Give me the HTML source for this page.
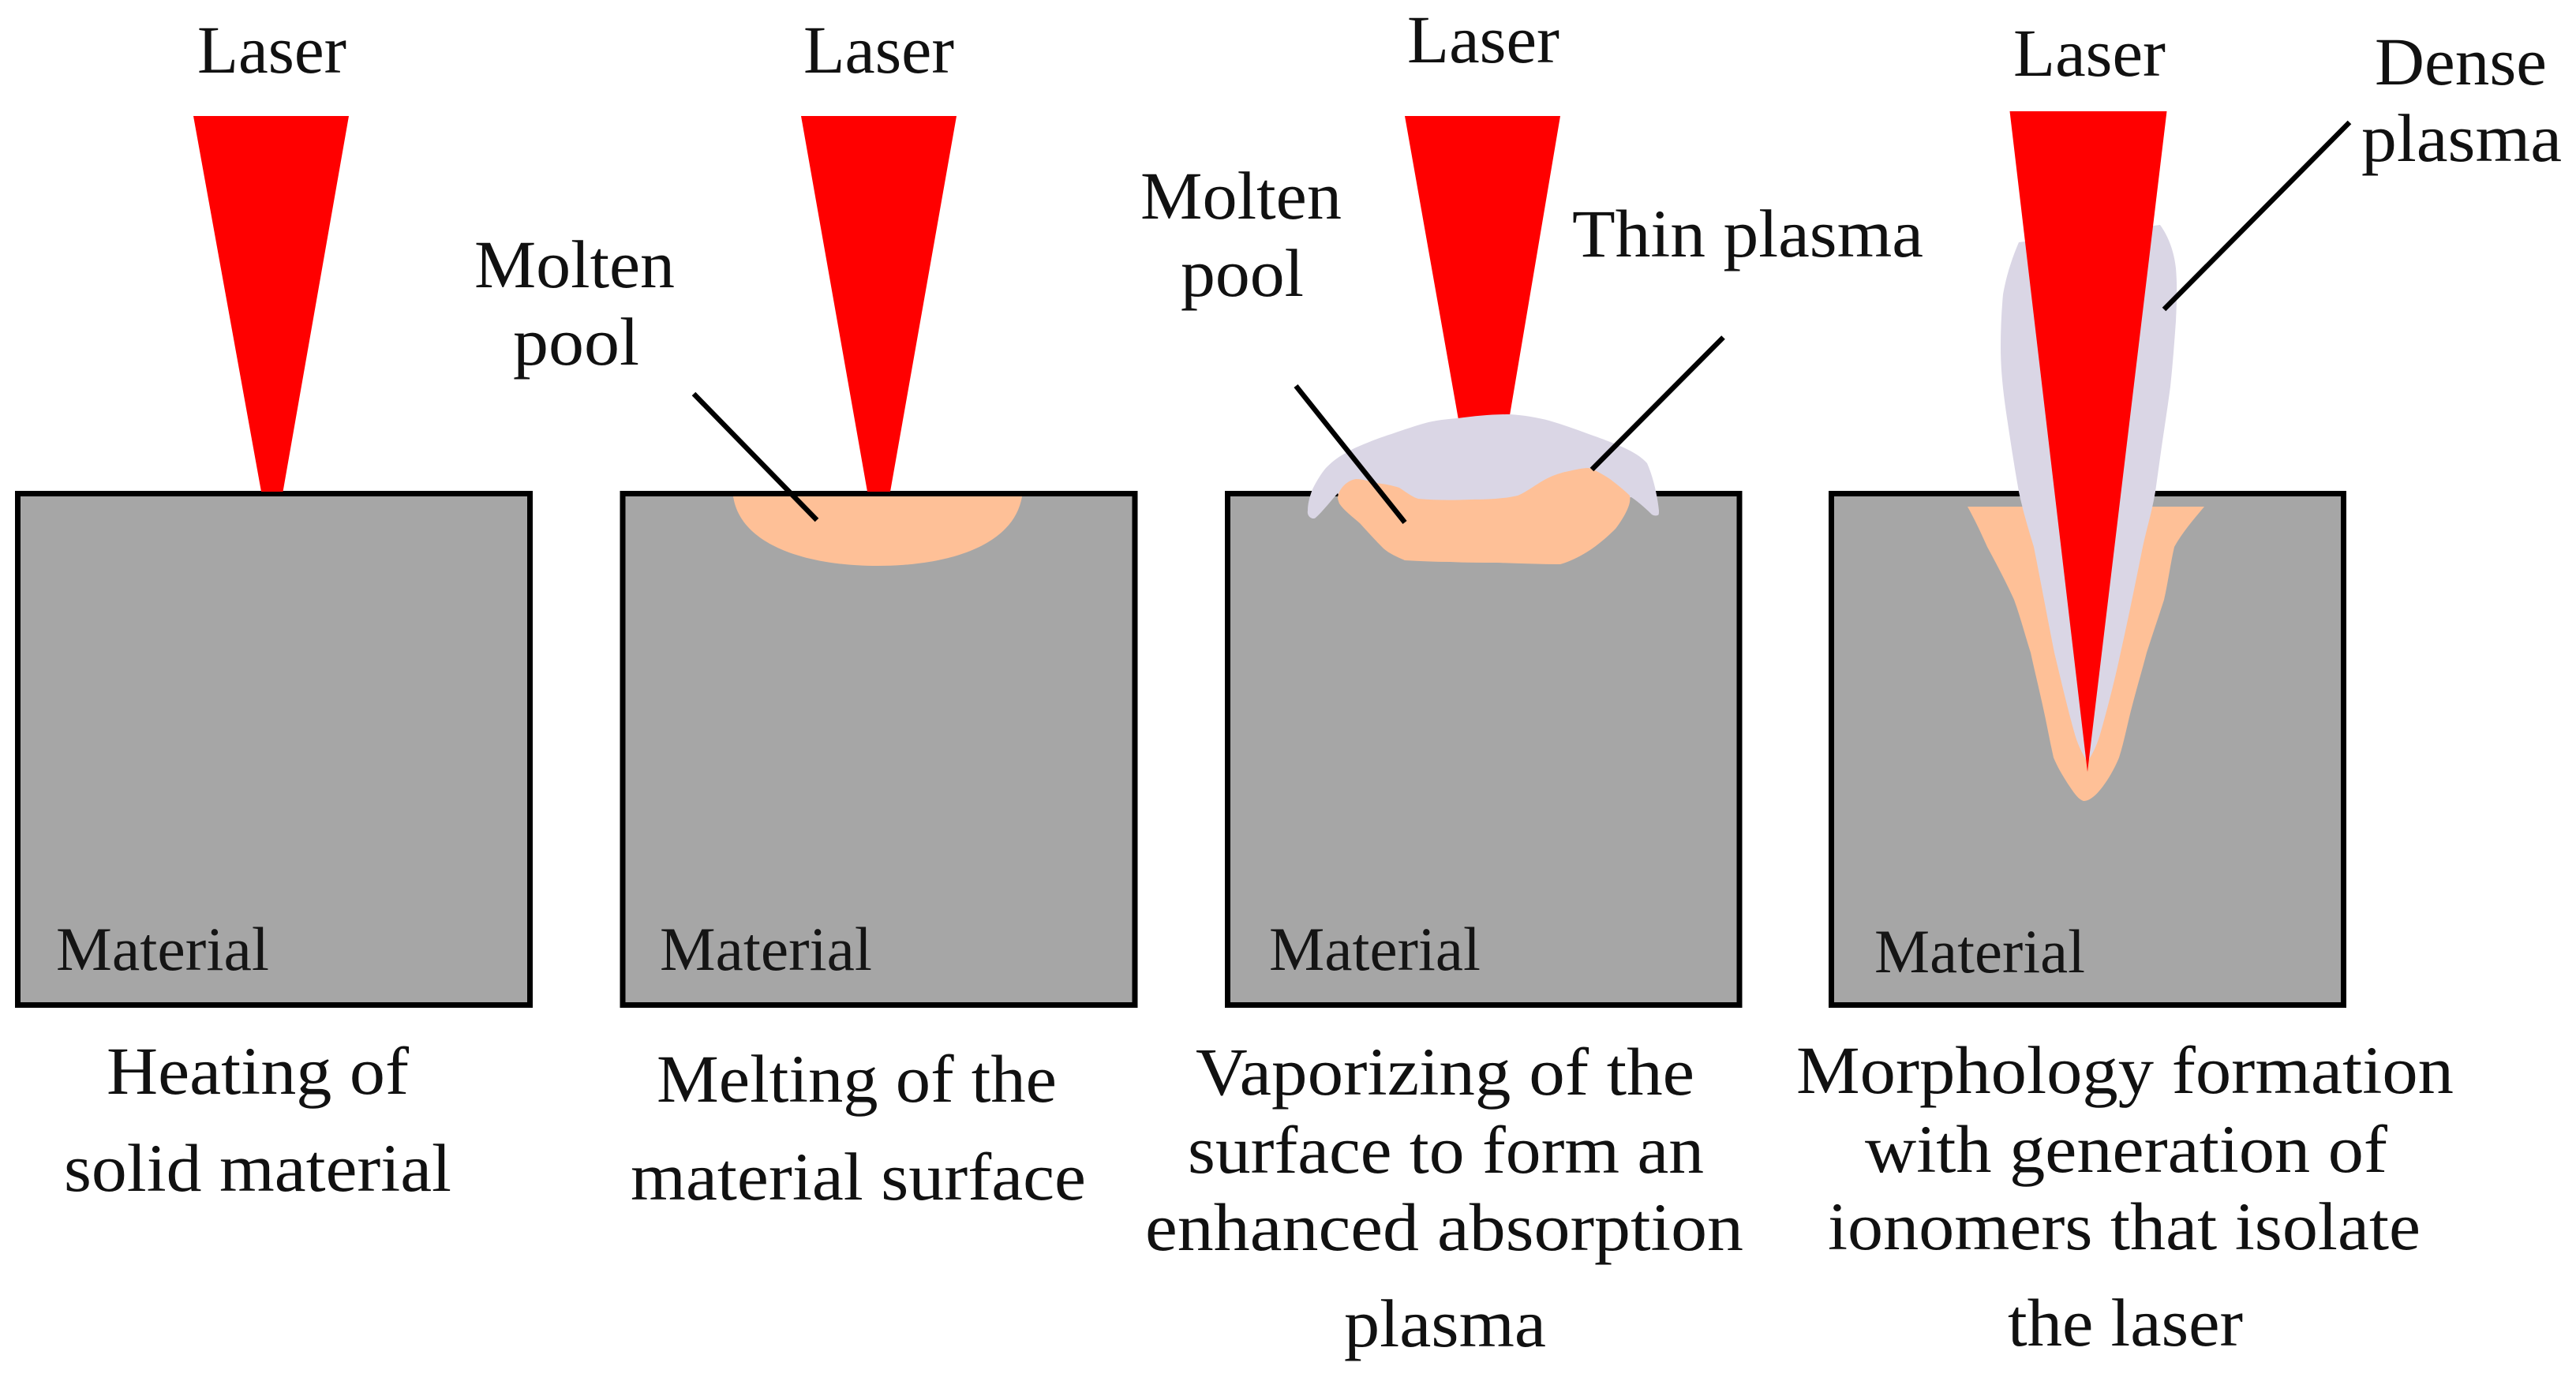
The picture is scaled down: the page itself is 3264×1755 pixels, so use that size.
<!DOCTYPE html>
<html><head><meta charset="utf-8"><style>
html,body{margin:0;padding:0;background:#fff;width:3264px;height:1755px;overflow:hidden}
svg{display:block}
text{font-family:"Liberation Serif",serif;font-size:86px;fill:#111}
.m{font-size:78px;fill:#151515}
</style></head><body>
<svg width="3264" height="1755" viewBox="0 0 3264 1755" xmlns="http://www.w3.org/2000/svg">
<rect width="3264" height="1755" fill="#fff"/>
<g fill="#a6a6a6" stroke="#000" stroke-width="7">
<rect x="22.5" y="625.5" width="649" height="648"/>
<rect x="789" y="625.5" width="649" height="648"/>
<rect x="1555.5" y="625.5" width="648.5" height="648"/>
<rect x="2320.5" y="625.5" width="649" height="648"/>
</g>
<!-- panel 1 -->
<polygon points="245,147 442,147 358.5,623 331,623" fill="#f00"/>
<!-- panel 2 -->
<path d="M929 629 L1295 629 C1285 690 1205 717 1112 717 C1020 717 938 690 929 629Z" fill="#fec097"/>
<polygon points="1015,147 1212,147 1128,623 1099,623" fill="#f00"/>
<line x1="879" y1="499" x2="1035" y2="659" stroke="#000" stroke-width="6.5"/>
<!-- panel 3 -->
<polygon points="1780,147 1977,147 1912,532 1848,532" fill="#f00"/>
<path d="M1663 657 C1659 656 1656 652 1657 647 C1657 637 1660 628 1663 620 C1668 610 1674 600 1680 593 C1687 586 1693 581 1700 577 C1708 572 1715 568 1723 565 C1737 559 1750 554 1763 550 C1780 544 1795 539 1810 535 C1823 532 1835 531 1847 530 C1870 527 1890 525 1913 525 C1930 526 1948 529 1963 533 C1980 538 1997 544 2013 550 C2030 556 2044 561 2057 567 C2070 573 2080 579 2087 587 C2095 605 2100 628 2102 647 C2102 651 2102 653 2100 653 C2097 654 2095 653 2093 652 C2085 644 2076 636 2067 630 L1980 645 L1705 645 L1695 625 C1686 635 1676 648 1667 656 C1666 657 1665 657 1663 657Z" fill="#dad6e5"/>
<path d="M1695 630 C1696 624 1699 619 1703 615 C1707 611 1712 608 1718 607 C1727 607 1735 610 1743 612 C1753 613 1764 615 1773 618 C1782 624 1790 630 1797 632 C1820 634 1840 634 1863 633 C1885 633 1906 632 1923 628 C1935 623 1946 614 1957 608 C1966 603 1975 600 1983 598 C1993 596 2004 593 2013 593 C2023 596 2032 602 2040 607 C2049 614 2058 621 2065 628 C2066 633 2065 638 2063 643 C2059 653 2053 662 2047 670 C2036 681 2023 692 2010 700 C2000 706 1988 712 1977 715 C1950 715 1924 714 1897 713 C1877 713 1857 713 1837 712 C1818 712 1799 711 1780 710 C1771 706 1761 702 1753 695 C1743 685 1733 674 1723 663 C1714 655 1703 647 1697 638 C1696 635 1695 633 1695 630Z" fill="#fec097"/>
<line x1="1642" y1="489" x2="1780" y2="662" stroke="#000" stroke-width="6.5"/>
<line x1="2183.5" y1="427.5" x2="2017" y2="595" stroke="#000" stroke-width="6.5"/>
<!-- panel 4 -->
<path d="M2493 642 L2793 642 C2778 660 2765 675 2755 693 C2750 715 2747 738 2742 760 C2735 782 2727 805 2720 827 C2714 850 2708 870 2702 893 C2696 915 2692 938 2685 960 C2680 972 2674 983 2667 993 C2660 1003 2650 1015 2640 1015 C2632 1012 2627 1003 2620 993 C2613 982 2607 972 2602 960 C2597 938 2593 915 2588 893 C2583 870 2578 850 2573 827 C2566 805 2560 782 2552 760 C2542 738 2530 715 2518 693 C2510 675 2502 658 2493 642Z" fill="#fec097"/>
<path d="M2737 285 C2748 300 2755 320 2757 340 C2759 363 2758 385 2757 407 C2755 435 2753 462 2750 490 C2746 520 2742 545 2738 573 L2731 623 C2727 647 2720 670 2715 693 C2706 738 2697 782 2687 827 C2680 860 2671 895 2662 927 C2658 942 2652 955 2645 965 C2638 955 2632 942 2628 927 C2619 895 2611 860 2603 827 C2594 782 2586 738 2577 693 C2570 670 2563 647 2558 623 C2552 590 2547 556 2542 523 C2538 495 2535 468 2535 440 C2535 417 2536 395 2538 373 C2542 350 2549 328 2558 307Z" fill="#dad6e5"/>
<polygon points="2546.5,141 2745.5,141 2645,978" fill="#f00"/>
<line x1="2977" y1="155" x2="2742" y2="392" stroke="#000" stroke-width="6.5"/>
<!-- labels -->
<text x="250" y="92" textLength="189" lengthAdjust="spacingAndGlyphs">Laser</text>
<text x="1018" y="92" textLength="191" lengthAdjust="spacingAndGlyphs">Laser</text>
<text x="1783" y="79" textLength="193" lengthAdjust="spacingAndGlyphs">Laser</text>
<text x="2551" y="96" textLength="193" lengthAdjust="spacingAndGlyphs">Laser</text>
<text x="601" y="364" textLength="254" lengthAdjust="spacingAndGlyphs">Molten</text>
<text x="650" y="462" textLength="160" lengthAdjust="spacingAndGlyphs">pool</text>
<text x="1445" y="277" textLength="255" lengthAdjust="spacingAndGlyphs">Molten</text>
<text x="1496" y="375" textLength="156" lengthAdjust="spacingAndGlyphs">pool</text>
<text x="1992" y="325" textLength="445" lengthAdjust="spacingAndGlyphs">Thin plasma</text>
<text x="3009" y="107" textLength="218" lengthAdjust="spacingAndGlyphs">Dense</text>
<text x="2992" y="204" textLength="254" lengthAdjust="spacingAndGlyphs">plasma</text>
<text class="m" x="71" y="1229" textLength="270" lengthAdjust="spacingAndGlyphs">Material</text>
<text class="m" x="836" y="1229" textLength="269" lengthAdjust="spacingAndGlyphs">Material</text>
<text class="m" x="1608" y="1229" textLength="268" lengthAdjust="spacingAndGlyphs">Material</text>
<text class="m" x="2375" y="1232" textLength="267" lengthAdjust="spacingAndGlyphs">Material</text>
<text x="135" y="1386" textLength="383" lengthAdjust="spacingAndGlyphs">Heating of</text>
<text x="81" y="1509" textLength="491" lengthAdjust="spacingAndGlyphs">solid material</text>
<text x="832" y="1396" textLength="507" lengthAdjust="spacingAndGlyphs">Melting of the</text>
<text x="799" y="1520" textLength="577" lengthAdjust="spacingAndGlyphs">material surface</text>
<text x="1515" y="1387" textLength="632" lengthAdjust="spacingAndGlyphs">Vaporizing of the</text>
<text x="1505" y="1486" textLength="654" lengthAdjust="spacingAndGlyphs">surface to form an</text>
<text x="1451" y="1584" textLength="758" lengthAdjust="spacingAndGlyphs">enhanced absorption</text>
<text x="1703" y="1706" textLength="256" lengthAdjust="spacingAndGlyphs">plasma</text>
<text x="2276" y="1385" textLength="833" lengthAdjust="spacingAndGlyphs">Morphology formation</text>
<text x="2363" y="1485" textLength="662" lengthAdjust="spacingAndGlyphs">with generation of</text>
<text x="2316" y="1583" textLength="751" lengthAdjust="spacingAndGlyphs">ionomers that isolate</text>
<text x="2544" y="1705" textLength="298" lengthAdjust="spacingAndGlyphs">the laser</text>
</svg>
</body></html>
